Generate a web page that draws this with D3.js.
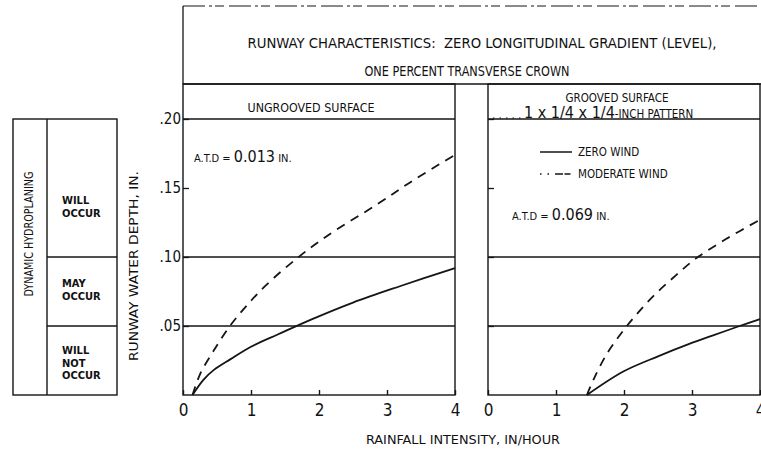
<!DOCTYPE html>
<html>
<head>
<meta charset="utf-8">
<script src="https://cdn.jsdelivr.net/npm/d3@7"></script>
<style>
  html, body { margin: 0; padding: 0; background: #fff; }
  svg { display: block; }
  text { font-family: "Liberation Sans Narrow", "DejaVu Sans Condensed", "Roboto", sans-serif; fill: #111; }
</style>
</head>
<body>
<script>
// Rainfall intensity (in/hour) tick values and water-depth (in.) tick values
const intensityTicks = [0, 1, 2, 3, 4];
const depthTicks = [0.05, 0.10, 0.15, 0.20];
const zoneLines = [0.05, 0.10, 0.20];

// Ungrooved surface, A.T.D = 0.013 in.
const ungroovedZeroX     = [0.14, 0.30, 0.45, 0.70, 1.00, 1.40, 1.90, 2.50, 3.20, 4.00];
const ungroovedZeroDepth = [0.000, 0.011, 0.018, 0.026, 0.035, 0.044, 0.055, 0.067, 0.079, 0.092];
const ungroovedModX      = [0.14, 0.25, 0.45, 0.69, 0.94, 1.23, 1.70, 2.14, 2.85, 3.40, 4.00];
const ungroovedModDepth  = [0.000, 0.015, 0.032, 0.050, 0.065, 0.080, 0.100, 0.116, 0.138, 0.156, 0.174];

// Grooved surface (1 x 1/4 x 1/4-inch pattern), A.T.D = 0.069 in.
const groovedZeroX     = [1.455, 1.99, 2.50, 2.96, 3.30, 3.70, 4.00];
const groovedZeroDepth = [0.000, 0.017, 0.028, 0.037, 0.043, 0.050, 0.055];
const groovedModX      = [1.455, 1.55, 1.75, 2.01, 2.23, 2.48, 2.77, 3.06, 3.50, 4.00];
const groovedModDepth  = [0.000, 0.011, 0.030, 0.048, 0.061, 0.074, 0.087, 0.099, 0.113, 0.127];

const zip = (xs, ys) => xs.map((x, i) => ({ x, y: ys[i] }));

const W = 761, H = 449;
const ink = "#151515";
const svg = d3.select("body").append("svg").attr("width", W).attr("height", H);

const y = d3.scaleLinear().domain([0, 0.20]).range([395, 119]);
const headerTop = 6, headerBottom = 84;

const panels = [
  { x: d3.scaleLinear().domain([0, 4]).range([183, 455]),
    zero: zip(ungroovedZeroX, ungroovedZeroDepth),
    mod: zip(ungroovedModX, ungroovedModDepth), yAxis: true },
  { x: d3.scaleLinear().domain([0, 4]).range([488, 760]),
    zero: zip(groovedZeroX, groovedZeroDepth),
    mod: zip(groovedModX, groovedModDepth), yAxis: false }
];

// Header box
svg.append("line").attr("x1", 183).attr("x2", W).attr("y1", headerTop).attr("y2", headerTop)
  .attr("stroke", ink).attr("stroke-width", 1).attr("stroke-dasharray", "22,4,3,3,9,5");
svg.append("line").attr("x1", 183).attr("x2", W).attr("y1", headerBottom).attr("y2", headerBottom)
  .attr("stroke", ink).attr("stroke-width", 1.3);
svg.append("line").attr("x1", 183).attr("x2", 183).attr("y1", headerTop).attr("y2", headerBottom)
  .attr("stroke", ink).attr("stroke-width", 1.3);

svg.append("text").attr("x", 482).attr("y", 48).attr("text-anchor", "middle")
  .style("font-size", "14px").attr("xml:space", "preserve")
  .attr("textLength", 469).attr("lengthAdjust", "spacingAndGlyphs")
  .text("RUNWAY CHARACTERISTICS:  ZERO LONGITUDINAL GRADIENT (LEVEL),");
svg.append("text").attr("x", 467).attr("y", 76).attr("text-anchor", "middle")
  .style("font-size", "14px")
  .attr("textLength", 205).attr("lengthAdjust", "spacingAndGlyphs")
  .text("ONE PERCENT TRANSVERSE CROWN");

const line = d3.line().x(d => d.x).y(d => d.y).curve(d3.curveCatmullRom.alpha(0.5));

panels.forEach(p => {
  const [x0, x1] = p.x.range();
  const g = svg.append("g");

  // panel frame
  g.append("rect").attr("x", x0).attr("y", headerBottom).attr("width", x1 - x0)
    .attr("height", y(0) - headerBottom).attr("fill", "none")
    .attr("stroke", ink).attr("stroke-width", 1.4);

  // hydroplaning zone boundaries
  g.selectAll("line.zone").data(zoneLines).join("line").attr("class", "zone")
    .attr("x1", x0).attr("x2", x1).attr("y1", d => y(d)).attr("y2", d => y(d))
    .attr("stroke", ink).attr("stroke-width", 1.3);

  // x axis
  const ax = g.append("g").attr("transform", `translate(0,${y(0)})`)
    .call(d3.axisBottom(p.x).tickValues(intensityTicks).tickSizeInner(-5).tickSizeOuter(0)
      .tickPadding(9).tickFormat(d3.format("d")));
  ax.select(".domain").remove();
  ax.selectAll("line").attr("stroke", ink).attr("stroke-width", 1.4);
  ax.selectAll("text").style("font-size", "17px").style("font-family", null).attr("fill", ink);

  // y axis
  const ay = g.append("g").attr("transform", `translate(${x0},0)`)
    .call(d3.axisLeft(y).tickValues(depthTicks).tickSizeInner(-6).tickSizeOuter(0).tickPadding(2)
      .tickFormat(d => "." + String(Math.round(d * 100)).padStart(2, "0")));
  ay.select(".domain").remove();
  ay.selectAll("line").attr("stroke", ink).attr("stroke-width", 1.3);
  ay.selectAll("text").style("font-size", "15px").style("font-family", null).attr("fill", ink)
    .style("display", p.yAxis ? null : "none");

  // curves
  g.append("path").datum(p.zero.map(d => ({ x: p.x(d.x), y: y(d.y) })))
    .attr("d", line).attr("fill", "none").attr("stroke", ink).attr("stroke-width", 1.8);
  g.append("path").datum(p.mod.map(d => ({ x: p.x(d.x), y: y(d.y) })))
    .attr("d", line).attr("fill", "none").attr("stroke", ink).attr("stroke-width", 1.8)
    .attr("stroke-dasharray", "9,7");
});

// panel captions
svg.append("text").attr("x", 311).attr("y", 112).attr("text-anchor", "middle")
  .style("font-size", "12px").attr("textLength", 127).attr("lengthAdjust", "spacingAndGlyphs")
  .text("UNGROOVED SURFACE");
svg.append("text").attr("x", 617).attr("y", 102).attr("text-anchor", "middle")
  .style("font-size", "11.5px").text("GROOVED SURFACE");
svg.append("line").attr("x1", 493).attr("x2", 522).attr("y1", y(0.20) - 1).attr("y2", y(0.20) - 1)
  .attr("stroke", ink).attr("stroke-width", 1.2).attr("stroke-dasharray", "1.5,5");
const pat = svg.append("text").attr("x", 524).attr("y", 118);
pat.append("tspan").style("font-size", "16px").text("1 x 1/4 x 1/4");
pat.append("tspan").style("font-size", "11.5px").text("-INCH PATTERN");

// A.T.D annotations
function atd(xp, yp, value) {
  const t = svg.append("text").attr("x", xp).attr("y", yp).attr("xml:space", "preserve");
  t.append("tspan").style("font-size", "11px").text("A.T.D = ");
  t.append("tspan").style("font-size", "16px").text(value);
  t.append("tspan").style("font-size", "11px").text(" IN.");
}
atd(194, 162, "0.013");
atd(512, 220, "0.069");

// wind legend
svg.append("line").attr("x1", 540).attr("x2", 572).attr("y1", 152).attr("y2", 152)
  .attr("stroke", ink).attr("stroke-width", 1.5);
svg.append("line").attr("x1", 540).attr("x2", 572).attr("y1", 174).attr("y2", 174)
  .attr("stroke", ink).attr("stroke-width", 1.5).attr("stroke-dasharray", "1.5,6,1.5,6,8");
svg.append("text").attr("x", 578).attr("y", 156).style("font-size", "11.5px").text("ZERO WIND");
svg.append("text").attr("x", 578).attr("y", 178).style("font-size", "11.5px").text("MODERATE WIND");

// axis titles
svg.append("text").attr("x", 463).attr("y", 444).attr("text-anchor", "middle")
  .style("font-size", "13px").attr("textLength", 194).attr("lengthAdjust", "spacingAndGlyphs")
  .text("RAINFALL INTENSITY, IN/HOUR");
svg.append("text").attr("transform", `translate(138,${266}) rotate(-90)`).attr("text-anchor", "middle")
  .style("font-size", "13px").attr("textLength", 190).attr("lengthAdjust", "spacingAndGlyphs")
  .text("RUNWAY WATER DEPTH, IN.");

// hydroplaning zone key
const kx0 = 13, kx1 = 117, kdiv = 47;
const key = svg.append("g");
key.append("rect").attr("x", kx0).attr("y", y(0.20)).attr("width", kx1 - kx0)
  .attr("height", y(0) - y(0.20)).attr("fill", "none").attr("stroke", ink).attr("stroke-width", 1.4);
key.append("line").attr("x1", kdiv).attr("x2", kdiv).attr("y1", y(0.20)).attr("y2", y(0))
  .attr("stroke", ink).attr("stroke-width", 1.4);
key.selectAll("line.zk").data([0.05, 0.10]).join("line").attr("class", "zk")
  .attr("x1", kdiv).attr("x2", kx1).attr("y1", d => y(d)).attr("y2", d => y(d))
  .attr("stroke", ink).attr("stroke-width", 1.3);
key.append("text").attr("transform", `translate(33,234) rotate(-90)`).attr("text-anchor", "middle")
  .style("font-size", "11.5px").attr("textLength", 125).attr("lengthAdjust", "spacingAndGlyphs")
  .text("DYNAMIC HYDROPLANING");

const zoneText = [
  { lines: ["WILL", "OCCUR"], top: 204 },
  { lines: ["MAY", "OCCUR"], top: 287 },
  { lines: ["WILL", "NOT", "OCCUR"], top: 354 }
];
zoneText.forEach(z => {
  z.lines.forEach((s, i) => {
    key.append("text").attr("x", 62).attr("y", z.top + i * 12.5)
      .style("font-size", "11px").style("font-weight", "bold").text(s);
  });
});
</script>
</body>
</html>
